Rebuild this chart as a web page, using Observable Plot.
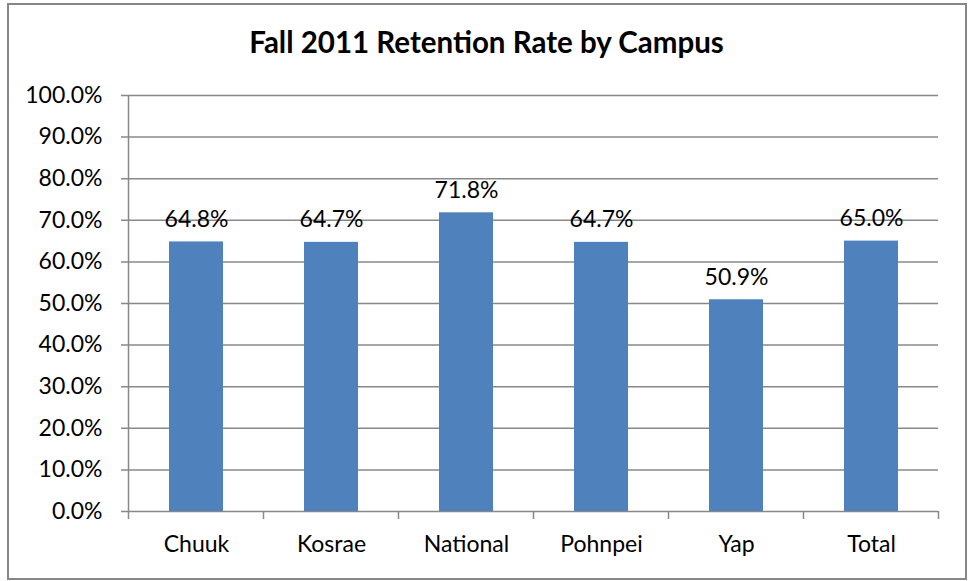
<!DOCTYPE html>
<html>
<head>
<meta charset="utf-8">
<script src="https://cdn.jsdelivr.net/npm/d3@7"></script>
<script src="https://cdn.jsdelivr.net/npm/@observablehq/plot@0.6"></script>
<style>
  html, body { margin: 0; padding: 0; background: #fff; }
  #wrap { position: relative; width: 969px; height: 581px; overflow: hidden; }
  #border { position: absolute; left: 7px; top: 3px; width: 956px; height: 573px; border: 2px solid #878787; box-sizing: content-box; }
  #chart { position: absolute; left: 0; top: 0; }
  #chart svg { font-family: Lato, "Open Sans", sans-serif; }
</style>
</head>
<body>
<div id="wrap">
  <div id="border"></div>
  <div id="chart"></div>
</div>
<script>
const title = "Fall 2011 Retention Rate by Campus";
const campuses = ["Chuuk", "Kosrae", "National", "Pohnpei", "Yap", "Total"];
const rates = [0.648, 0.647, 0.718, 0.647, 0.509, 0.650];
const yTicks = [0, 0.1, 0.2, 0.3, 0.4, 0.5, 0.6, 0.7, 0.8, 0.9, 1.0];

const data = campuses.map((c, i) => ({campus: c, rate: rates[i]}));
const fmt = d3.format(".1%");

// y-axis line and tick marks at the boundaries between categories, from Plot's band scale
function boundaryTicks(index, scales, values, dimensions) {
  const x = scales.x;
  const step = x.step ? x.step() : (dimensions.width - dimensions.marginLeft - dimensions.marginRight) / campuses.length;
  const bw = x.bandwidth ? x.bandwidth() : step * 0.4;
  const off = (step - bw) / 2;
  const edges = campuses.map(c => x(c) - off);
  edges.push(x(campuses[campuses.length - 1]) + bw + off);
  const y0 = dimensions.height - dimensions.marginBottom;
  const yTop = dimensions.marginTop;
  const g = d3.create("svg:g");
  g.selectAll("line").data(edges).join("line")
    .attr("x1", d => d).attr("x2", d => d)
    .attr("y1", (d, i) => i === 0 ? yTop : y0).attr("y2", y0 + 8)
    .attr("stroke", "#888").attr("stroke-width", 1.5);
  return g.node();
}

const chart = Plot.plot({
  width: 969,
  height: 581,
  marginLeft: 128,
  marginRight: 31,
  marginTop: 95,
  marginBottom: 70,
  style: {fontFamily: "Lato, 'Open Sans', sans-serif", fontSize: "23px", color: "#000", background: "transparent", overflow: "visible"},
  x: {domain: campuses, paddingInner: 0.6, paddingOuter: 0.3, label: null},
  y: {domain: [0, 1], label: null},
  marks: [
    Plot.ruleY(yTicks, {stroke: "#888", strokeWidth: 1.5, insetLeft: -7}),
    Plot.barY(data, {x: "campus", y: "rate", fill: "#4F81BD"}),
    Plot.text(data, {x: "campus", y: "rate", text: d => fmt(d.rate), lineAnchor: "bottom", dy: -15, fontSize: 23, fill: "#000"}),
    Plot.axisY({ticks: yTicks, tickFormat: fmt, tickSize: 0, tickPadding: 26, fontSize: 23, label: null}),
    Plot.axisX({tickSize: 0, tickPadding: 24, fontSize: 23, label: null}),
    boundaryTicks,
    Plot.text([title], {frameAnchor: "top", dx: -47, dy: -52, text: d => d, fontSize: 29.5, fontWeight: "bold", fill: "#000", lineAnchor: "middle"})
  ]
});
document.getElementById("chart").appendChild(chart);
</script>
</body>
</html>
